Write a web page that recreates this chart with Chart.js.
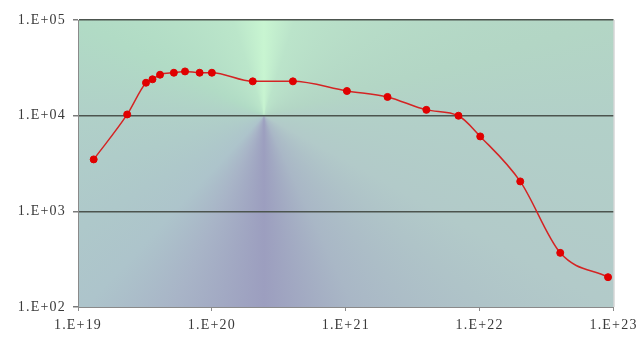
<!DOCTYPE html>
<html>
<head>
<meta charset="utf-8">
<script src="https://cdn.jsdelivr.net/npm/chart.js@4/dist/chart.umd.min.js"></script>
<style>
  body { margin: 0; background: #fff; }
</style>
</head>
<body>
<canvas id="myChart" width="640" height="345"></canvas>
<script>
// values
const xValues = [1.31e19, 2.33e19, 3.22e19, 3.6e19, 4.1e19, 5.2e19, 6.3e19, 8.1e19, 1.0e20,
    2.02e20, 4.03e20, 1.02e21, 2.05e21, 4.0e21, 6.95e21, 1.01e22, 2.01e22, 4.0e22, 9.1e22];
const yValues = [3490, 10300, 22100, 24000, 26800, 28100, 29000, 28100, 28100,
    22850, 22850, 18100, 15700, 11500, 9980, 6070, 2055, 368, 205];
const xTicks = [1e19, 1e20, 1e21, 1e22, 1e23];
const yTicks = [1e2, 1e3, 1e4, 1e5];

const expLabel = function (v) {
    return "1.E+" + String(Math.round(Math.log10(v))).padStart(2, "0");
};

const points = xValues.map((x, i) => ({ x: x, y: yValues[i] }));

// conic background behind the plot, like the excel "from corner" fill
const backdrop = {
    id: "backdrop",
    beforeDraw(chart) {
        const { ctx, chartArea: a, scales } = chart;
        const cx = scales.x.getPixelForValue(2.45e20);
        const cy = scales.y.getPixelForValue(1e4);
        ctx.save();
        const g = ctx.createConicGradient(0, cx, cy);
        g.addColorStop(0, "#b2d0c8");
        g.addColorStop(0.08, "#b2cac9");
        g.addColorStop(0.18, "#a9b7c6");
        g.addColorStop(0.25, "#9c9ebf");
        g.addColorStop(0.32, "#a8b4c7");
        g.addColorStop(0.37, "#adc4cb");
        g.addColorStop(0.5, "#b0d0c8");
        g.addColorStop(0.575, "#b1dbc5");
        g.addColorStop(0.7, "#bbe6ca");
        g.addColorStop(0.75, "#c8f5d1");
        g.addColorStop(0.8, "#bbe4ca");
        g.addColorStop(0.958, "#b3d6c5");
        g.addColorStop(1, "#b2d0c8");
        ctx.fillStyle = g;
        ctx.fillRect(a.left, a.top, a.right - a.left, a.bottom - a.top);
        ctx.restore();
        ctx.letterSpacing = "1.2px";
    },
    afterDraw(chart) {
        const { ctx, chartArea: a } = chart;
        ctx.save();
        ctx.strokeStyle = "#c4c4c4";
        ctx.lineWidth = 1;
        ctx.beginPath();
        ctx.moveTo(a.right + 0.5, a.top);
        ctx.lineTo(a.right + 0.5, a.bottom);
        ctx.stroke();
        ctx.restore();
    }
};

const ctx = document.querySelector("#myChart");

new Chart(ctx, {
    type: "scatter",
    data: {
        datasets: [
            {
                data: points,
                showLine: true,
                borderColor: "#d42424",
                borderWidth: 1.5,
                cubicInterpolationMode: "monotone",
                pointRadius: 3.5,
                pointHoverRadius: 3.5,
                pointBackgroundColor: "#e00000",
                pointBorderColor: "#e00000",
                pointBorderWidth: 1,
            },
        ],
    },
    options: {
        responsive: false,
        animation: false,
        layout: { padding: { top: 20, right: 26, left: 0, bottom: 0 } },
        plugins: {
            legend: { display: false },
            tooltip: { enabled: false },
        },
        scales: {
            x: {
                type: "logarithmic",
                min: 1e19,
                max: 1e23,
                afterBuildTicks: (s) => { s.ticks = xTicks.map((v) => ({ value: v })); },
                afterFit: (s) => { s.height = 38; },
                grid: { drawOnChartArea: false, tickLength: 4, color: "#8a8a8a" },
                border: { color: "#8a8a8a", width: 1 },
                ticks: {
                    callback: (v) => expLabel(v),
                    maxRotation: 0,
                    autoSkip: false,
                    padding: 6,
                    color: "#3a3a3a",
                    font: { family: "'Liberation Serif', serif", size: 14 },
                },
            },
            y: {
                type: "logarithmic",
                min: 1e2,
                max: 1e5,
                afterBuildTicks: (s) => { s.ticks = yTicks.map((v) => ({ value: v })); },
                afterFit: (s) => { s.width = 78; },
                grid: {
                    color: (c) => (c.tick && c.tick.value === 1e2 ? "rgba(0,0,0,0)" : "#4c544e"),
                    lineWidth: 1.5,
                    tickLength: 5,
                    tickColor: "#7a7a7a",
                },
                border: { color: "#8a8a8a", width: 1 },
                ticks: {
                    callback: (v) => expLabel(v),
                    autoSkip: false,
                    padding: 7,
                    color: "#3a3a3a",
                    font: { family: "'Liberation Serif', serif", size: 14 },
                },
            },
        },
    },
    plugins: [backdrop],
});
</script>
</body>
</html>
